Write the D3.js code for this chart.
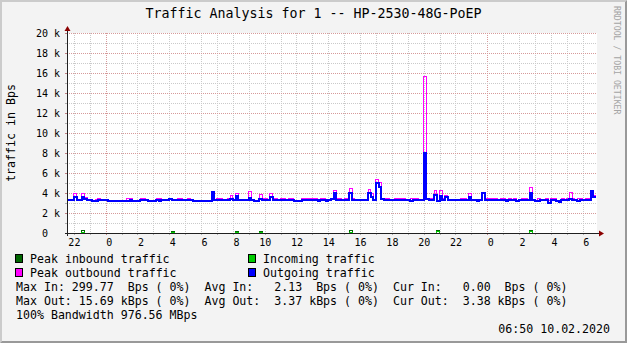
<!DOCTYPE html>
<html>
<head>
<meta charset="utf-8">
<script src="https://cdn.jsdelivr.net/npm/d3@7"></script>
<style>
  body { margin: 0; background: #fff; }
  svg { display: block; }
  text { font-family: "DejaVu Sans Mono", monospace; white-space: pre; fill: #000; }
</style>
</head>
<body>
<svg id="chart"></svg>
<script>
// 10 minute buckets starting 08.02.2020 21:30, values in kBps
const outAvg = [
  3.3,3.3,3.3,3.65,3.35,3.3,3.6,3.4,3.3,3.3,3.25,3.25,3.3,3.3,3.3,3.3,3.25,3.2,3.2,3.2,
  3.2,3.2,3.2,3.25,3.3,3.2,3.2,3.2,3.3,3.3,3.3,3.25,3.25,3.25,3.3,3.25,3.3,3.3,3.3,3.4,
  3.35,3.3,3.3,3.3,3.3,3.3,3.3,3.3,3.25,3.25,3.25,3.25,3.25,3.25,3.25,4.1,3.3,3.3,3.3,3.3,
  3.3,3.3,3.4,3.3,3.7,3.3,3.3,3.3,3.3,3.55,3.3,3.25,3.25,3.4,3.3,3.3,3.3,3.6,3.3,3.3,
  3.3,3.3,3.3,3.3,3.3,3.3,3.25,3.25,3.25,3.3,3.3,3.3,3.3,3.3,3.3,3.25,3.3,3.3,3.25,3.3,
  3.4,4.0,3.3,3.3,3.3,3.3,3.3,3.97,3.35,3.3,3.3,3.3,3.3,3.3,4.0,3.6,3.3,4.97,4.6,3.4,
  3.3,3.3,3.3,3.3,3.3,3.3,3.3,3.3,3.3,3.3,3.25,3.3,3.3,3.3,3.3,8.0,3.45,3.3,3.3,3.8,
  3.2,3.7,3.3,3.6,3.3,3.3,3.3,3.3,3.3,3.3,3.3,3.3,3.6,3.3,3.3,3.25,3.3,3.97,3.3,3.3,
  3.3,3.3,3.3,3.3,3.3,3.3,3.25,3.3,3.3,3.3,3.25,3.3,3.3,3.3,3.3,3.97,3.3,3.25,3.25,3.3,
  3.3,3.3,3.0,3.3,3.3,3.25,3.1,3.3,3.3,3.3,3.4,3.3,3.3,3.25,3.3,3.3,3.3,3.3,4.2,3.6
];
const outPeak = [
  3.35,3.35,3.35,4.0,3.4,3.35,4.0,3.55,3.4,3.4,3.3,3.4,3.45,3.3,3.35,3.3,3.3,3.25,3.25,3.25,
  3.25,3.25,3.25,3.45,3.45,3.25,3.25,3.3,3.45,3.45,3.35,3.3,3.3,3.3,3.45,3.45,3.35,3.35,3.35,3.45,
  3.4,3.35,3.45,3.45,3.35,3.35,3.45,3.4,3.3,3.3,3.3,3.3,3.3,3.3,3.3,4.15,3.4,3.45,3.45,3.35,
  3.4,3.45,3.8,3.4,3.97,3.35,3.35,3.3,3.35,4.17,3.35,3.3,3.3,3.9,3.45,3.45,3.35,4.0,3.45,3.45,
  3.35,3.45,3.45,3.35,3.45,3.45,3.3,3.3,3.3,3.45,3.45,3.45,3.45,3.45,3.45,3.3,3.45,3.45,3.3,3.35,
  3.45,4.3,3.45,3.45,3.35,3.45,3.45,4.5,3.45,3.35,3.35,3.3,3.35,3.3,4.4,3.95,3.35,5.4,5.07,3.5,
  3.45,3.45,3.3,3.3,3.45,3.45,3.45,3.45,3.35,3.3,3.45,3.45,3.45,3.35,3.3,15.69,3.5,3.45,3.45,4.3,
  3.3,4.3,3.45,3.8,3.35,3.35,3.3,3.35,3.35,3.45,3.45,3.35,3.97,3.35,3.3,3.3,3.35,4.0,3.45,3.45,
  3.45,3.45,3.45,3.4,3.45,3.45,3.3,3.45,3.35,3.45,3.3,3.35,3.45,3.45,3.35,4.57,3.35,3.3,3.45,3.35,
  3.35,3.45,3.3,3.45,3.45,3.3,3.3,3.45,3.35,3.45,4.1,3.45,3.35,3.45,3.45,3.35,3.45,3.45,4.3,3.75
];
const inPeak = [
  0,0,0,0,0,0,0.23,0,0,0,0,0,0,0,0,0,0,0,0,0,
  0,0,0,0,0,0,0,0,0,0,0,0,0,0,0,0,0,0,0,0,
  0.13,0,0,0,0,0,0,0,0,0,0,0,0,0,0,0,0,0,0,0,
  0,0,0,0,0.17,0,0,0,0,0,0,0,0,0.13,0,0,0,0,0,0,
  0,0,0,0,0,0,0,0,0,0,0,0,0,0,0,0,0,0,0,0,
  0,0,0,0,0,0,0,0.23,0,0,0,0,0,0,0,0,0,0,0,0,
  0,0,0,0,0,0,0,0,0,0,0,0,0,0,0,0,0,0,0,0,
  0.27,0,0,0,0,0,0,0,0,0,0,0,0,0,0,0,0,0,0,0,
  0,0,0,0,0,0,0,0,0,0,0,0,0,0,0,0.3,0,0,0,0,
  0,0,0,0,0,0,0,0,0,0,0,0,0,0,0,0,0,0,0,0
];
const inAvg = [
  0,0,0,0,0,0,0.09,0,0,0,0,0,0,0,0,0,0,0,0,0,
  0,0,0,0,0,0,0,0,0,0,0,0,0,0,0,0,0,0,0,0,
  0.05,0,0,0,0,0,0,0,0,0,0,0,0,0,0,0,0,0,0,0,
  0,0,0,0,0.07,0,0,0,0,0,0,0,0,0.05,0,0,0,0,0,0,
  0,0,0,0,0,0,0,0,0,0,0,0,0,0,0,0,0,0,0,0,
  0,0,0,0,0,0,0,0.09,0,0,0,0,0,0,0,0,0,0,0,0,
  0,0,0,0,0,0,0,0,0,0,0,0,0,0,0,0,0,0,0,0,
  0.11,0,0,0,0,0,0,0,0,0,0,0,0,0,0,0,0,0,0,0,
  0,0,0,0,0,0,0,0,0,0,0,0,0,0,0,0.12,0,0,0,0,
  0,0,0,0,0,0,0,0,0,0,0,0,0,0,0,0,0,0,0,0
];
const yTicks = [0, 2, 4, 6, 8, 10, 12, 14, 16, 18, 20];
const legendNames = ["Peak inbound traffic", "Incoming traffic", "Peak outbound traffic", "Outgoing traffic"];
const statLines = [
  "Max In: 299.77  Bps ( 0%)  Avg In:   2.13  Bps ( 0%)  Cur In:   0.00  Bps ( 0%)",
  "Max Out: 15.69 kBps ( 0%)  Avg Out:  3.37 kBps ( 0%)  Cur Out:  3.38 kBps ( 0%)",
  "100% Bandwidth 976.56 MBps"
];
const title = "Traffic Analysis for 1 -- HP-2530-48G-PoEP";
const stamp = "06:50 10.02.2020";

const W = 627, H = 343;
const X0 = 67, X1 = 597, Y0 = 233, Y1 = 33;
const start = new Date(2020, 1, 8, 21, 30);
const step = 10 * 60 * 1000;

const x = d3.scaleTime()
  .domain([new Date(2020, 1, 8, 21, 34), new Date(2020, 1, 10, 6, 54)])
  .range([X0, X1]);
const y = d3.scaleLinear().domain([0, 20]).range([Y0, Y1]);

const svg = d3.select("#chart").attr("width", W).attr("height", H);

// background + 3d border
svg.append("rect").attr("width", W).attr("height", H).attr("fill", "#f3f3f3");
svg.append("path").attr("d", `M0,0H${W}L${W-2},2H2V${H-2}L0,${H}Z`).attr("fill", "#cbcbcb");
svg.append("path").attr("d", `M${W},0V${H}H0L2,${H-2}H${W-2}V2Z`).attr("fill", "#999999");

svg.append("rect").attr("x", X0).attr("y", Y1).attr("width", X1 - X0).attr("height", Y0 - Y1).attr("fill", "#fff");

// grid
const grid = svg.append("g").attr("shape-rendering", "crispEdges");
const hours = d3.timeHour.every(1).range(x.domain()[0], x.domain()[1]);
hours.forEach(h => {
  const major = h.getHours() === 0;
  const px = Math.round(x(h)) + 0.5;
  grid.append("line").attr("x1", px).attr("x2", px).attr("y1", Y1).attr("y2", Y0)
    .attr("stroke", major ? "#d69a9a" : "#cacaca").attr("stroke-dasharray", "1,1");
  grid.append("line").attr("x1", px).attr("x2", px).attr("y1", Y0).attr("y2", Y0 + 2)
    .attr("stroke", major ? "#c08080" : "#b0b0b0");
});
d3.range(1, 21).forEach(v => {
  const major = v % 2 === 0;
  const py = Math.round(y(v)) + 0.5;
  grid.append("line").attr("x1", X0).attr("x2", X1).attr("y1", py).attr("y2", py)
    .attr("stroke", major ? "#d69a9a" : "#cacaca").attr("stroke-dasharray", "1,1");
  grid.append("line").attr("x1", X0 - 2).attr("x2", X0).attr("y1", py).attr("y2", py)
    .attr("stroke", major ? "#c08080" : "#b0b0b0");
});

// series
svg.append("clipPath").attr("id", "clip").append("rect")
  .attr("x", X0).attr("y", Y1 - 1).attr("width", X1 - X0).attr("height", Y0 - Y1 + 2);

const line = d3.line().x(d => x(d[0])).y(d => y(d[1])).curve(d3.curveStepAfter);
const pts = vals => vals.map((v, i) => [new Date(+start + i * step), v])
  .concat([[new Date(+start + vals.length * step), vals[vals.length - 1]]]);

const series = [
  { vals: inPeak, color: "#006600", w: 1 },
  { vals: inAvg, color: "#00cc00", w: 1 },
  { vals: outPeak, color: "#ff00ff", w: 1 },
  { vals: outAvg, color: "#0000ff", w: 2 }
];
svg.append("g").attr("clip-path", "url(#clip)")
  .selectAll("path").data(series).join("path")
  .attr("d", d => line(pts(d.vals)))
  .attr("fill", "none")
  .attr("stroke", d => d.color)
  .attr("stroke-width", d => d.w)
  .attr("shape-rendering", "crispEdges");

// axes lines + arrows
svg.append("line").attr("x1", X0 - 2).attr("x2", X1 + 4).attr("y1", Y0 + 0.5).attr("y2", Y0 + 0.5)
  .attr("stroke", "#202020").attr("shape-rendering", "crispEdges");
svg.append("line").attr("x1", X0 + 0.5).attr("x2", X0 + 0.5).attr("y1", Y0 + 3).attr("y2", Y1 - 4)
  .attr("stroke", "#202020").attr("shape-rendering", "crispEdges");
svg.append("path").attr("d", `M${X0 - 2.5},${Y1 - 2}L${X0 + 3.5},${Y1 - 2}L${X0 + 0.5},${Y1 - 7}Z`).attr("fill", "#8b0000");
svg.append("path").attr("d", `M${X1 + 2},${Y0 - 2.5}L${X1 + 2},${Y0 + 3.5}L${X1 + 7},${Y0 + 0.5}Z`).attr("fill", "#8b0000");

// axis labels
const xAxis = d3.axisBottom(x)
  .ticks(d3.timeHour.every(2))
  .tickFormat(d3.timeFormat("%_H"))
  .tickSize(0).tickPadding(6);
const gx = svg.append("g").attr("transform", `translate(0,${Y0})`).call(xAxis);
gx.select(".domain").remove();
gx.selectAll("text").attr("font-family", null).attr("font-size", 10).attr("xml:space", "preserve");

const yAxis = d3.axisLeft(y)
  .tickValues(yTicks)
  .tickFormat(d => d ? d + " k" : "0  ")
  .tickSize(0).tickPadding(7);
const gy = svg.append("g").attr("transform", `translate(${X0},0)`).call(yAxis);
gy.select(".domain").remove();
gy.selectAll("text").attr("font-family", null).attr("font-size", 10).attr("xml:space", "preserve");

// title, unit, watermark
svg.append("text").attr("x", W / 2).attr("y", 18).attr("text-anchor", "middle")
  .attr("font-size", 13.3).text(title);
svg.append("text").attr("transform", `translate(15,${(Y0 + Y1) / 2}) rotate(-90)`)
  .attr("text-anchor", "middle").attr("font-size", 11.6).text("traffic in Bps");
svg.append("text").attr("transform", `translate(614,6) rotate(90)`)
  .attr("font-size", 8.2).style("fill", "#a4a4a4").text("RRDTOOL / TOBI OETIKER");

// legend
const legendColors = series.map(s => s.color);
const lg = svg.append("g");
legendNames.forEach((name, i) => {
  const col = i % 2, row = Math.floor(i / 2);
  const lx = col ? 248 : 15, ly = 263 + row * 14;
  lg.append("rect").attr("x", lx + 0.5).attr("y", ly - 8.5).attr("width", 7).attr("height", 8)
    .attr("fill", legendColors[i]).attr("stroke", "#000").attr("stroke-width", 1)
    .attr("shape-rendering", "crispEdges");
  lg.append("text").attr("x", lx + 15).attr("y", ly).attr("font-size", 11.6).text(name);
});
statLines.forEach((s, i) => {
  lg.append("text").attr("x", 16).attr("y", 291 + i * 14).attr("font-size", 11.6)
    .attr("xml:space", "preserve").text(s);
});
lg.append("text").attr("x", 610).attr("y", 333).attr("text-anchor", "end")
  .attr("font-size", 11.6).text(stamp);
</script>
</body>
</html>
